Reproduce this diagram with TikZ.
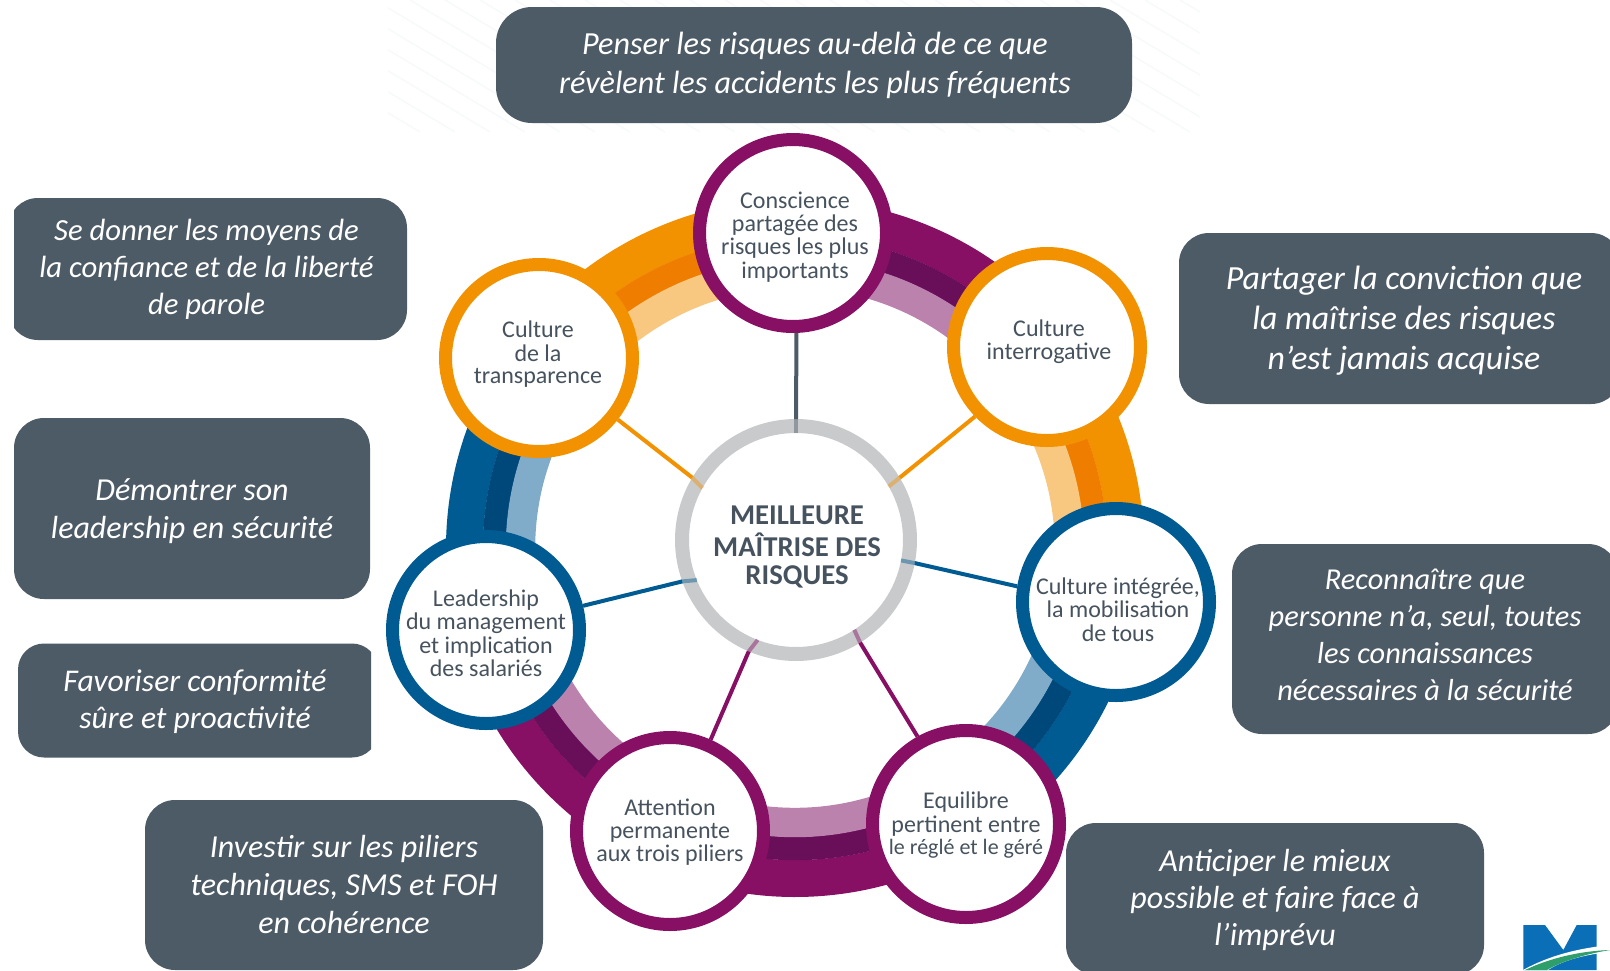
\documentclass[tikz,border=0pt]{standalone}
\usepackage{fontspec}
\setmainfont{Carlito}
\definecolor{org}{HTML}{F39200}\definecolor{orgD}{HTML}{EF7D00}\definecolor{orgL}{HTML}{F8C780}
\definecolor{pur}{HTML}{870F64}\definecolor{purD}{HTML}{690F5A}\definecolor{purL}{HTML}{BC82AE}
\definecolor{blu}{HTML}{005B92}\definecolor{bluD}{HTML}{00477A}\definecolor{bluL}{HTML}{80ABC9}
\definecolor{hubgray}{HTML}{C8CACC}\definecolor{slate}{HTML}{4D5B66}\definecolor{ink}{HTML}{46535E}
\definecolor{hatch}{HTML}{F7F9FA}\definecolor{logoB}{HTML}{0B6FB8}\definecolor{logoG}{HTML}{2E9E6B}
\newcommand\ctext[3]{\makebox[0pt]{\hspace*{\dimexpr 2\dimexpr#1pt\relax\relax}\raisebox{#2pt}[0pt][0pt]{\begin{tabular}[c]{@{}c@{}}#3\end{tabular}}}}
\newcommand\fsz[2]{\fontsize{#1}{#2}\selectfont}
\newcommand\segm[5]{% start, end, main, dark, light
  \draw[line width=37,#3] (#1:330.5) arc[start angle=#1,end angle=#2,radius=330.5];
  \draw[line width=23.4,#4] (#1:300.5) arc[start angle=#1,end angle=#2,radius=300.5];
  \draw[line width=29.4,#5] (#1:274.5) arc[start angle=#1,end angle=#2,radius=274.5];}
\tikzset{
  disc/.style={circle,draw=#1,line width=13,fill=white,minimum size=187,inner sep=0,text=ink,font=\fsz{24}{22.7}},
  msgbox/.style={rectangle,rounded corners=30,fill=slate,text=white,inner sep=0,font=\fsz{32}{37}\itshape},
  spoke/.style={draw=#1,line width=4},
  stub/.style={draw=#1,line width=4,opacity=.45}
}
\begin{document}
\begin{tikzpicture}[x=1pt,y=1pt]
\useasboundingbox (0,0) rectangle (1610,-970);
\clip (0,0) rectangle (1610,-970);
% faint hatching behind the top box
\begin{scope}
\clip (388,0) rectangle (1200,-132);
\foreach \k in {0,...,34}{\draw[hatch,line width=1.5] (200+\k*35,0) -- ++(220,-132);}
\end{scope}
% ring
\begin{scope}[shift={(795,-548)}]
\segm{90}{143.5}{org}{orgD}{orgL}
\segm{38.6}{90}{pur}{purD}{purL}
\segm{-9.5}{38.6}{org}{orgD}{orgL}
\segm{-58}{-9.5}{blu}{bluD}{bluL}
\segm{-114}{-58}{pur}{purD}{purL}
\segm{195}{246}{pur}{purD}{purL}
\segm{143.5}{195}{blu}{bluD}{bluL}
\end{scope}
% hub
\node[circle,draw=hubgray,line width=14,fill=white,minimum size=228,inner sep=0,text=ink,font=\fsz{28.7}{28}\bfseries] (hub) at (796,-540) {\ctext{1}{-15}{MEILLEURE\\MAÎTRISE DES\\RISQUES}};
\node[circle,minimum size=214,inner sep=0,outer sep=0] (hubin) at (796,-540) {};
% discs
\node[disc=pur] (cT) at (793,-233) {\ctext{2}{-11.5}{Conscience\\partagée des\\risques les plus\\importants}};
\node[disc=org] (cRO) at (1047,-347) {\ctext{2}{-2}{Culture\\interrogative}};
\node[disc=blu] (cBR) at (1116,-602) {\ctext{2}{-17}{Culture intégrée,\\la mobilisation\\de tous}};
\node[disc=pur] (cLR) at (966,-824) {\ctext{0}{-9}{Equilibre\\pertinent entre\\{\fsz{22}{22.7}le réglé et le géré}}};
\node[disc=pur] (cLL) at (670,-831) {\ctext{0}{-9}{Attention\\permanente\\aux trois piliers}};
\node[disc=blu] (cBL) at (486,-630) {\ctext{0}{-13}{Leadership\\du management\\et implication\\des salariés}};
\node[disc=org] (cLO) at (539,-358) {\ctext{-1}{-4}{Culture\\de la\\transparence}};
% spokes
\draw[spoke=slate] (cT.272.2) -- (hub.90);   \draw[stub=slate] (hub.90) -- (hubin.90);
\draw[spoke=org] (cRO.224.2) -- (hub.31.7);  \draw[stub=org] (hub.31.7) -- (hubin.30.9);
\draw[spoke=org] (cLO.-38.5) -- (hub.149.6); \draw[stub=org] (hub.149.6) -- (hubin.151.3);
\draw[spoke=blu] (cBR.171.4) -- (hub.-11.1); \draw[stub=blu] (hub.-11.1) -- (hubin.-11.3);
\draw[spoke=blu] (cBL.14.5) -- (hub.200.8);  \draw[stub=blu] (hub.200.8) -- (hubin.202);
\draw[spoke=pur] (cLL.66.7) -- (hub.247.7);  \draw[stub=pur] (hub.247.7) -- (hubin.249);
\draw[spoke=pur] (cLR.119.4) -- (hub.302.9); \draw[stub=pur] (hub.302.9) -- (hubin.303.5);
% message boxes
\node[msgbox,rounded corners=36,minimum width=636,minimum height=116,font=\fsz{32.2}{39}\itshape] (bT) at (814,-65) {\ctext{1}{-7}{Penser les risques au-delà de ce que\\révèlent les accidents les plus fréquents}};
\begin{scope}
\clip (14,-190) rectangle (420,-350);
\node[msgbox,minimum width=399,minimum height=142,font=\fsz{30.7}{37}\itshape] (bL1) at (207.5,-269) {\ctext{-1}{-7}{Se donner les moyens de\\la confiance et de la liberté\\de parole}};
\end{scope}
\node[msgbox,minimum width=356,minimum height=181,font=\fsz{32}{38}\itshape] (bL2) at (192,-508.5) {\ctext{0}{-10}{Démontrer son\\leadership en sécurité}};
\begin{scope}
\clip (10,-635) rectangle (371,-765);
\node[msgbox,rounded corners=26,minimum width=360,minimum height=114,font=\fsz{31.6}{37}\itshape] (bL3) at (198,-700.5) {\ctext{-3}{-8}{Favoriser conformité\\sûre et proactivité}};
\end{scope}
\node[msgbox,minimum width=398,minimum height=170,font=\fsz{32}{38}\itshape] (bBL) at (344,-885) {\ctext{0}{-9}{Investir sur les piliers\\techniques, SMS et FOH\\en cohérence}};
\node[msgbox,minimum width=418,minimum height=152] (bBR) at (1275,-899) {\ctext{0}{-8}{Anticiper le mieux\\possible et faire face à\\l’imprévu}};
\node[msgbox,minimum width=442,minimum height=171,font=\fsz{33.8}{40}\itshape] (bR1) at (1400,-318.5) {\ctext{4}{-9}{Partager la conviction que\\la maîtrise des risques\\n’est jamais acquise}};
\node[msgbox,minimum width=386,minimum height=190,font=\fsz{30.4}{37}\itshape] (bR2) at (1425,-639) {\ctext{0}{-5}{Reconnaître que\\personne n’a, seul, toutes\\les connaissances\\nécessaires à la sécurité}};
% logo
\fill[logoB] (1523.3,-925) -- (1545,-925) -- (1563.3,-950) -- (1576.7,-925) -- (1596.7,-925) -- (1596.7,-970) -- (1523.3,-970) -- cycle;
\fill[white] (1523,-970) .. controls (1550,-955) and (1580,-948) .. (1610,-945) -- (1610,-952) .. controls (1580,-955) and (1560,-962) .. (1548,-970) -- cycle;
\fill[logoG] (1525,-970) .. controls (1550,-958) and (1580,-951) .. (1610,-950) .. controls (1585,-954) and (1560,-962) .. (1547,-970) -- cycle;
\end{tikzpicture}
\end{document}
